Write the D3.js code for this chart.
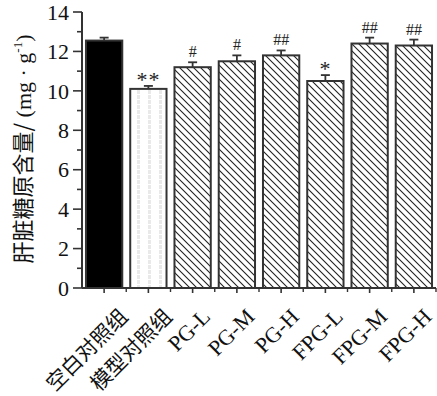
<!DOCTYPE html>
<html>
<head>
<meta charset="utf-8">
<script src="https://cdn.jsdelivr.net/npm/d3@7"></script>
<style>
  body { margin: 0; background: #fff; }
  svg { display: block; }
  .serif { font-family: "Liberation Serif", "Times New Roman", serif; }
  .cjk { font-family: "Noto Sans CJK SC", sans-serif; }
</style>
</head>
<body>
<svg id="chart"></svg>
<script>
// chart data
const groups = ['空白对照组', '模型对照组', 'PG-L', 'PG-M', 'PG-H', 'FPG-L', 'FPG-M', 'FPG-H'];
const means = [12.55, 10.1, 11.2, 11.5, 11.8, 10.5, 12.4, 12.3];
const errs = [0.15, 0.15, 0.25, 0.3, 0.25, 0.3, 0.3, 0.3];
const marks = ['', '**', '#', '#', '##', '*', '##', '##'];
const fills = ['solid', 'dots', 'hatch', 'hatch', 'hatch', 'hatch', 'hatch', 'hatch'];
const yTicks = [0, 2, 4, 6, 8, 10, 12, 14];

const W = 437, H = 396;
const M = { top: 12, right: 1, bottom: 108, left: 82 };
const axisColor = '#333';

const svg = d3.select('#chart').attr('width', W).attr('height', H);
const defs = svg.append('defs');

// hatch pattern (\\\)
const hp = defs.append('pattern').attr('id', 'hatch').attr('patternUnits', 'userSpaceOnUse')
  .attr('width', 7).attr('height', 7);
hp.append('rect').attr('width', 7).attr('height', 7).attr('fill', '#fff');
hp.append('path').attr('d', 'M-2,-2 L9,9 M-2,5 L2,9 M5,-2 L9,2')
  .attr('stroke', '#222').attr('stroke-width', 1.1);

// light dotted pattern for model group
const dp = defs.append('pattern').attr('id', 'dots').attr('patternUnits', 'userSpaceOnUse')
  .attr('width', 11).attr('height', 5).attr('x', 3);
dp.append('rect').attr('width', 11).attr('height', 5).attr('fill', '#fff');
dp.append('path').attr('d', 'M2,1 L5,1 M2,3 L5,3').attr('stroke', '#d4d4d4').attr('stroke-width', 1);

const x = d3.scaleBand().domain(groups).range([M.left, W - M.right]).paddingInner(0.18).paddingOuter(0.09);
const y = d3.scaleLinear().domain([0, 14]).range([H - M.bottom, M.top]);

const fillOf = f => f === 'solid' ? '#000' : f === 'dots' ? 'url(#dots)' : 'url(#hatch)';

// bars
const bars = svg.append('g');
groups.forEach((g, i) => {
  const x0 = x(g), bw = x.bandwidth();
  bars.append('rect').attr('x', x0).attr('y', y(means[i])).attr('width', bw)
    .attr('height', y(0) - y(means[i])).attr('fill', fillOf(fills[i]))
    .attr('stroke', axisColor).attr('stroke-width', 2);
  // error bar (upper only)
  const cx = x0 + bw / 2, top = y(means[i] + errs[i]);
  bars.append('line').attr('x1', cx).attr('x2', cx).attr('y1', y(means[i])).attr('y2', top)
    .attr('stroke', axisColor).attr('stroke-width', 1.8);
  bars.append('line').attr('x1', cx - 4.5).attr('x2', cx + 4.5).attr('y1', top).attr('y2', top)
    .attr('stroke', axisColor).attr('stroke-width', 1.8);
  if (marks[i]) {
    const star = marks[i].includes('*');
    svg.append('text').attr('class', 'serif').attr('x', cx).attr('y', top + (star ? 1 : -5))
      .attr('text-anchor', 'middle').attr('font-size', star ? 22 : 16).attr('fill', '#222')
      .attr('letter-spacing', star ? 1 : 0)
      .text(marks[i]);
  }
});

// y axis
const yAxis = svg.append('g').attr('transform', `translate(${M.left},0)`);
yAxis.append('line').attr('x1', 0).attr('x2', 0).attr('y1', y(14)).attr('y2', y(0))
  .attr('stroke', axisColor).attr('stroke-width', 2);
d3.range(0, 15, 1).forEach(v => {
  const major = v % 2 === 0;
  yAxis.append('line').attr('x1', major ? -9 : -5).attr('x2', 0).attr('y1', y(v)).attr('y2', y(v))
    .attr('stroke', axisColor).attr('stroke-width', 1.6);
});
yTicks.forEach(v => {
  yAxis.append('text').attr('class', 'serif').attr('x', -13).attr('y', y(v)).attr('dy', '0.35em')
    .attr('text-anchor', 'end').attr('font-size', 22).attr('fill', '#111').text(v);
});

// x axis
const xAxis = svg.append('g');
xAxis.append('line').attr('x1', M.left).attr('x2', W - M.right).attr('y1', y(0)).attr('y2', y(0))
  .attr('stroke', axisColor).attr('stroke-width', 2);
const step = x.step();
groups.forEach((g, i) => {
  const cx = x(g) + x.bandwidth() / 2;
  xAxis.append('line').attr('x1', cx).attr('x2', cx).attr('y1', y(0)).attr('y2', y(0) + 5)
    .attr('stroke', axisColor).attr('stroke-width', 1.6);
  const bx = cx + step / 2;
  xAxis.append('line').attr('x1', bx).attr('x2', bx).attr('y1', y(0)).attr('y2', y(0) + 4)
    .attr('stroke', axisColor).attr('stroke-width', 1.4);
  const cjk = /[\u4e00-\u9fff]/.test(g);
  const dx = cjk ? 25 : 19;
  xAxis.append('text').attr('class', cjk ? 'cjk' : 'serif')
    .attr('transform', `translate(${cx + dx},${y(0) + 30}) rotate(-45)`)
    .attr('text-anchor', 'end').attr('font-size', cjk ? 21 : 22).attr('fill', '#111')
    .text(g);
});

// y label
const yl = svg.append('text').attr('transform', `translate(31,149) rotate(-90)`)
  .attr('text-anchor', 'middle').attr('font-size', 22).attr('fill', '#111');
yl.append('tspan').attr('class', 'cjk').text('肝脏糖原含量/');
yl.append('tspan').attr('class', 'serif').attr('font-size', 22).text(' (mg · g');
yl.append('tspan').attr('class', 'serif').attr('font-size', 13).attr('dy', -9).text('-1');
yl.append('tspan').attr('class', 'serif').attr('font-size', 22).attr('dy', 9).text(')');
</script>
</body>
</html>
